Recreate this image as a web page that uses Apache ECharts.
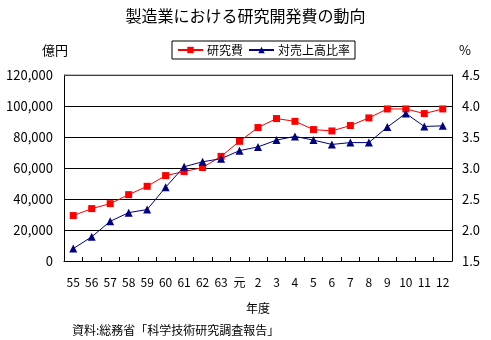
<!DOCTYPE html>
<html><head><meta charset="utf-8">
<script src="https://cdn.jsdelivr.net/npm/echarts@6/dist/echarts.min.js"></script>
<style>html,body{margin:0;padding:0;background:#fff}#c{width:491px;height:340px}</style>
</head><body><div id="c"></div>
<script>
const categories = ['55','56','57','58','59','60','61','62','63','元','2','3','4','5','6','7','8','9','10','11','12'];
const researchCost = [29300,33800,37000,42800,48200,55100,57700,60300,67500,77200,86100,91900,90100,84800,83900,87400,92300,98100,98100,95100,98100];
const salesRatio = [1.70,1.89,2.14,2.28,2.33,2.69,3.02,3.10,3.15,3.28,3.34,3.45,3.51,3.45,3.38,3.41,3.41,3.66,3.88,3.67,3.68];
const leftTicks = {min:0, max:120000, interval:20000};
const rightTicks = {min:1.5, max:4.5, interval:0.5};

const FONT = '"Noto Sans CJK JP", "Noto Sans", sans-serif';
const chart = echarts.init(document.getElementById('c'), null, {renderer:'canvas'});
chart.setOption({
  animation:false,
  backgroundColor:'#fff',
  textStyle:{fontFamily:FONT, color:'#000'},
  title:{text:'製造業における研究開発費の動向', left:'center', top:3,
    textStyle:{fontFamily:FONT, fontSize:16, fontWeight:'normal', color:'#000'}},
  legend:{left:172, top:41, padding:[3,5,3,5], borderColor:'#000', borderWidth:1,
    itemWidth:25, itemHeight:8, itemGap:5,
    textStyle:{fontFamily:FONT, fontSize:12, color:'#000', padding:[0,0,0,-1]},
    data:['研究費','対売上高比率']},
  grid:{left:64, right:39, top:75, bottom:79, containLabel:false},
  xAxis:{type:'category', data:categories, boundaryGap:true,
    name:'年度', nameLocation:'middle', nameGap:41,
    nameTextStyle:{fontFamily:FONT, fontSize:12, color:'#000'},
    axisLine:{lineStyle:{color:'#000', width:1}},
    axisTick:{show:true, inside:true, length:4, lineStyle:{color:'#000'}},
    axisLabel:{fontFamily:FONT, fontSize:12, color:'#000', margin:15, interval:0}},
  yAxis:[
    {type:'value', min:leftTicks.min, max:leftTicks.max, interval:leftTicks.interval,
     position:'left',
     axisLine:{show:true, lineStyle:{color:'#000'}},
     axisTick:{show:false},
     splitLine:{show:true, lineStyle:{color:'#000', width:1}},
     axisLabel:{fontFamily:FONT, fontSize:13, color:'#000', margin:11,
       formatter:v=>v.toLocaleString('en-US')}},
    {type:'value', min:rightTicks.min, max:rightTicks.max, interval:rightTicks.interval,
     position:'right',
     axisLine:{show:true, lineStyle:{color:'#000'}},
     axisTick:{show:false},
     splitLine:{show:false},
     axisLabel:{fontFamily:FONT, fontSize:13, color:'#000', margin:10,
       formatter:v=>v.toFixed(1)}}
  ],
  graphic:[
    {type:'line', shape:{x1:64, y1:75, x2:452, y2:75}, style:{stroke:'#808080', lineWidth:1}, z:10},
    {type:'text', left:42, top:44, style:{text:'億円', font:'13px '+FONT, fill:'#000'}},
    {type:'text', left:459, top:44, style:{text:'%', font:'13px '+FONT, fill:'#000'}},
    {type:'text', left:72, top:324, style:{text:'資料:総務省「科学技術研究調査報告」', font:'12px '+FONT, fill:'#000'}}
  ],
  series:[
    {name:'研究費', type:'line', yAxisIndex:0, data:researchCost,
     symbol:'rect', symbolSize:7, color:'#FF0000',
     lineStyle:{color:'#FF0000', width:1}, itemStyle:{color:'#FF0000'}},
    {name:'対売上高比率', type:'line', yAxisIndex:1, data:salesRatio,
     symbol:'triangle', symbolSize:8, color:'#000080',
     lineStyle:{color:'#000080', width:1}, itemStyle:{color:'#000080'}}
  ]
});
</script></body></html>
